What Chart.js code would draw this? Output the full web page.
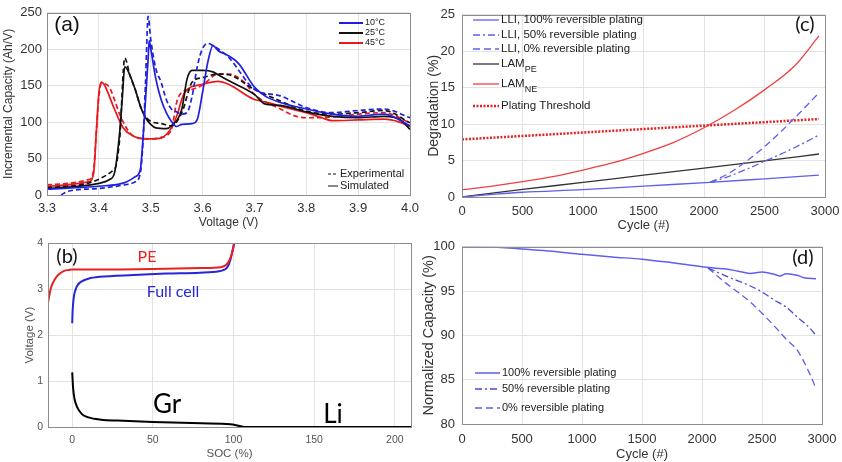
<!DOCTYPE html>
<html>
<head>
<meta charset="utf-8">
<script src="https://cdn.jsdelivr.net/npm/chart.js@4.4.1/dist/chart.umd.min.js"></script>
<style>
  html, body { margin: 0; padding: 0; background: #fff; }
  #wrap { position: relative; width: 842px; height: 462px; overflow: hidden; }
  canvas { position: absolute; }
</style>
</head>
<body>
<div id="wrap">
  <canvas id="ca" width="440" height="232" style="left:0;top:0"></canvas>
  <canvas id="cb" width="440" height="230" style="left:0;top:232px"></canvas>
  <canvas id="cc" width="440" height="232" style="left:420px;top:0"></canvas>
  <canvas id="cd" width="440" height="230" style="left:420px;top:232px"></canvas>
</div>
<script>
// ---- (a) incremental capacity vs voltage ----
var v10Sim = [3.30,3.40,3.45,3.47,3.48,3.485,3.49,3.495,3.497,3.50,3.51,3.52,3.53,3.54,3.55,3.56,3.58,3.59,3.60,3.61,3.62,3.63,3.65,3.67,3.70,3.72,3.75,3.80,3.85,3.90,3.95,4.00];
var ic10Sim = [8,12,17,25,35,76,131,187,212,201,159,131,113,101,94,97,98,104,141,182,205,198,191,180,148,136,127,118,111,108,111,95];
var v10Exp = [3.327,3.34,3.40,3.45,3.47,3.48,3.485,3.49,3.495,3.50,3.51,3.52,3.53,3.54,3.55,3.56,3.57,3.58,3.59,3.60,3.61,3.62,3.65,3.70,3.75,3.80,3.85,3.90,3.95,4.00];
var ic10Exp = [0,5,9,14,18,30,72,155,245,214,173,155,131,118,114,111,113,136,177,201,208,205,189,145,136,120,113,116,118,106];
var v25Sim = [3.30,3.40,3.42,3.43,3.44,3.445,3.45,3.455,3.47,3.48,3.49,3.50,3.51,3.53,3.54,3.56,3.57,3.58,3.60,3.62,3.63,3.65,3.70,3.72,3.75,3.80,3.85,3.90,3.95,3.98,4.00];
var ic25Sim = [9,16,21,30,85,131,176,172,145,122,106,97,92,91,95,118,159,171,171,169,165,157,138,125,123,114,108,106,108,104,90];
var v25Exp = [3.30,3.43,3.44,3.45,3.46,3.47,3.48,3.49,3.50,3.52,3.54,3.56,3.58,3.60,3.63,3.65,3.70,3.75,3.80,3.85,3.90,3.95,4.00];
var ic25Exp = [10,35,76,188,164,145,122,108,101,98,95,113,155,161,166,165,145,129,115,111,113,116,99];
var v45Sim = [3.30,3.38,3.39,3.395,3.40,3.405,3.41,3.43,3.447,3.466,3.485,3.50,3.52,3.53,3.54,3.55,3.565,3.60,3.63,3.65,3.70,3.72,3.75,3.80,3.83,3.85,3.90,3.95,3.98,4.00];
var ic45Sim = [12,18,30,85,140,155,152,118,92,81,77,77,78,83,92,108,140,152,156,152,131,128,122,113,106,102,103,104,100,94];
var v45Exp = [3.30,3.38,3.39,3.395,3.40,3.405,3.42,3.43,3.44,3.46,3.48,3.50,3.52,3.54,3.55,3.56,3.58,3.60,3.63,3.65,3.68,3.70,3.75,3.78,3.80,3.85,3.90,3.95,4.00];
var ic45Exp = [14,21,35,85,135,153,148,131,111,85,78,77,79,90,127,141,145,151,166,166,155,138,118,108,106,107,111,113,99];
var aVoltTicks = [3.3,3.4,3.5,3.6,3.7,3.8,3.9,4.0];
var aIcTicks = [0,50,100,150,200,250];

// ---- (b) electrode / full cell voltage vs SOC ----
var socPE = [-15,-14,-13,-11,-9,-7,-5,-2,0,20,50,80,92,95,97,98.5,100,100.5];
var voltPE = [2.7,2.9,3.05,3.2,3.3,3.36,3.4,3.42,3.43,3.43,3.44,3.46,3.48,3.52,3.6,3.72,3.92,4.0];
var socFull = [0,0.3,1,2,3,5,7,10,17,38,58,79,91,94,96,97.7,99,100.3];
var voltFull = [2.26,2.55,2.83,2.98,3.07,3.15,3.19,3.23,3.27,3.31,3.34,3.36,3.39,3.42,3.47,3.6,3.78,4.0];
var socGr = [0,0.6,1.4,3,6,10,18,28,50,80,98,104,108,210];
var voltGr = [1.19,0.83,0.62,0.44,0.28,0.21,0.16,0.14,0.11,0.08,0.06,0.02,0,0];
var bSocTicks = [0,50,100,150,200];
var bVoltTicks = [0,1,2,3,4];

// ---- (c) degradation modes vs cycle ----
var cycLLI = [0,250,500,1000,1500,2050,2500,2950];
var lli100 = [0,0.35,0.65,1.0,1.5,2.0,2.5,3.0];
var cycPlating = [2050,2200,2350,2500,2650,2800,2950];
var lli50 = [2.0,2.8,3.8,4.9,6.0,7.2,8.5];
var lli0 = [2.0,3.2,4.9,6.9,9.2,11.7,14.3];
var cycLAM = [0,500,1000,1500,2000,2500,2950];
var lamPE = [0,1.05,2.0,3.0,3.95,4.95,5.9];
var cycNE = [0,250,500,750,1000,1250,1500,1750,2000,2250,2500,2750,2950];
var lamNE = [1.0,1.5,2.1,2.8,3.7,4.7,6.0,7.5,9.5,11.9,14.7,18.0,22.1];
var cycThr = [0,2950];
var platingThr = [7.9,10.7];
var cycleTicks = [0,500,1000,1500,2000,2500,3000];
var cDegTicks = [0,5,10,15,20,25];

// ---- (d) normalized capacity vs cycle ----
var cycCap = [0,300,500,750,1000,1250,1500,1750,2000,2100,2200,2300,2400,2500,2600,2650,2700,2800,2850,2950];
var cap100 = [100,99.95,99.75,99.5,99.15,98.85,98.6,98.2,97.75,97.6,97.5,97.25,97.0,97.15,96.9,96.7,96.95,96.75,96.5,96.4];
var cycCapPl = [2050,2200,2400,2500,2600,2700,2800,2900,2950];
var cap50 = [97.6,96.7,95.6,94.9,94.0,93.2,92.0,90.8,90.0];
var cap0 = [97.6,95.9,93.8,92.5,91.1,89.6,88.2,85.6,84.0];
var dCapTicks = [80,85,90,95,100];

Chart.defaults.font.family = "'Liberation Sans', Arial, sans-serif";
Chart.defaults.color = '#333';

var BLUE_A = '#1f1fe0', RED_A = '#e8191e', BLACK = '#111';
var BLUE_C = '#5f5fee', BLUE_D = '#4a4ad8', RED_C = '#ee4040', BLACK_C = '#333';
var DASH = [5, 3], DASHDOT = [7, 3, 2, 3], DOT = [2, 1.5];

function pts(xs, ys) {
  return xs.map(function (x, i) { return { x: x, y: ys[i] }; });
}

function line(label, xs, ys, color, width, dash) {
  return {
    label: label, data: pts(xs, ys),
    borderColor: color, backgroundColor: color,
    borderWidth: width, borderDash: dash || [],
    pointRadius: 0, fill: false, cubicInterpolationMode: 'monotone'
  };
}

// axis helper: fixed size so the plot boxes land where the figure has them
function axis(o) {
  return {
    type: 'linear', min: o.min, max: o.max,
    afterBuildTicks: function (s) { s.ticks = o.ticks.map(function (v) { return { value: v }; }); },
    afterFit: function (s) { if (o.width) s.width = o.width; if (o.height) s.height = o.height; },
    grid: { color: '#e3e3e3', drawTicks: false },
    border: { display: false },
    ticks: {
      padding: o.pad, color: o.color || '#333', font: { size: o.size },
      callback: o.fmt || function (v) { return v; }
    },
    title: { display: true, text: o.title, color: o.color || '#333', font: { size: o.tsize }, padding: o.tpad }
  };
}

var decor = {
  id: 'decor',
  afterDraw: function (chart, args, o) {
    var ctx = chart.ctx, a = chart.chartArea;
    ctx.save();
    ctx.strokeStyle = '#8c8c8c';
    ctx.lineWidth = 1;
    ctx.strokeRect(Math.round(a.left) + 0.5, Math.round(a.top) + 0.5, Math.round(a.right - a.left), Math.round(a.bottom - a.top));
    (o.legends || []).forEach(function (g) {
      g.items.forEach(function (it) {
        ctx.strokeStyle = it.color;
        ctx.lineWidth = it.width;
        ctx.setLineDash(it.dash || []);
        ctx.beginPath();
        ctx.moveTo(g.x0, it.y);
        ctx.lineTo(g.x1, it.y);
        ctx.stroke();
        ctx.setLineDash([]);
        ctx.fillStyle = '#222';
        ctx.font = g.font;
        ctx.textAlign = 'left';
        ctx.textBaseline = 'middle';
        ctx.fillText(it.text, g.x1 + 2, it.y);
        if (it.sub) {
          var w = ctx.measureText(it.text).width;
          ctx.font = g.subFont;
          ctx.fillText(it.sub, g.x1 + 2 + w, it.y + 6);
        }
      });
    });
    (o.texts || []).forEach(function (t) {
      ctx.font = t.font;
      ctx.fillStyle = t.color || '#111';
      ctx.textAlign = 'center';
      ctx.textBaseline = 'middle';
      ctx.fillText(t.text, t.x, t.y);
    });
    ctx.restore();
  }
};

function base(pad, scales, decorOpts) {
  return {
    responsive: false, animation: false, devicePixelRatio: 1,
    layout: { padding: pad },
    plugins: { legend: { display: false }, tooltip: { enabled: false }, decor: decorOpts },
    scales: scales
  };
}

// (a)
new Chart(document.getElementById('ca'), {
  type: 'line',
  data: { datasets: [
    line('10°C simulated', v10Sim, ic10Sim, BLUE_A, 1.7),
    line('10°C experimental', v10Exp, ic10Exp, BLUE_A, 1.7, DASH),
    line('25°C simulated', v25Sim, ic25Sim, BLACK, 1.7),
    line('25°C experimental', v25Exp, ic25Exp, BLACK, 1.7, DASH),
    line('45°C simulated', v45Sim, ic45Sim, RED_A, 1.7),
    line('45°C experimental', v45Exp, ic45Exp, RED_A, 1.7, DASH)
  ] },
  options: base({ left: 0, top: 10, right: 30, bottom: 0 }, {
    x: axis({ min: 3.3, max: 4.0, ticks: aVoltTicks, height: 37, pad: 6, size: 13,
      fmt: function (v) { return v.toFixed(1); }, title: 'Voltage (V)', tsize: 12, tpad: { top: 0, bottom: 2 } }),
    y: axis({ min: 0, max: 250, ticks: aIcTicks, width: 47, pad: 5, size: 13,
      title: 'Incremental Capacity (Ah/V)', tsize: 12, tpad: { top: 1, bottom: 0 } })
  }, {
    legends: [
      { x0: 339, x1: 363, font: "9px 'Liberation Sans'", items: [
        { text: '10°C', y: 23, color: BLUE_A, width: 2 },
        { text: '25°C', y: 33, color: BLACK, width: 2 },
        { text: '45°C', y: 43, color: RED_A, width: 2 }
      ] },
      { x0: 328, x1: 338, font: "11px 'Liberation Sans'", items: [
        { text: 'Experimental', y: 174, color: BLACK, width: 1.2, dash: [3, 2] },
        { text: 'Simulated', y: 186, color: BLACK, width: 1 }
      ] }
    ],
    texts: [ { text: '(a)', x: 67, y: 25, font: "21px 'Liberation Sans'" } ]
  }),
  plugins: [decor]
});

// (b)
new Chart(document.getElementById('cb'), {
  type: 'line',
  data: { datasets: [
    line('PE', socPE, voltPE, '#e82020', 2),
    line('Full cell', socFull, voltFull, '#2626d6', 2),
    line('Gr', socGr, voltGr, '#000', 2)
  ] },
  options: base({ left: 0, top: 9, right: 29, bottom: 0 }, {
    x: axis({ min: -15, max: 210, ticks: bSocTicks, height: 35, pad: 7, size: 10.5, color: '#555',
      title: 'SOC (%)', tsize: 11.5, tpad: { top: 0, bottom: 1 } }),
    y: axis({ min: 0, max: 4, ticks: bVoltTicks, width: 48, pad: 5, size: 10.5, color: '#555',
      title: 'Voltage (V)', tsize: 11.5, tpad: { top: 23, bottom: 0 } })
  }, {
    texts: [
      { text: '(b)', x: 67, y: 25, font: "20px Lato" },
      { text: 'PE', x: 147, y: 25, font: "16px Lato", color: '#e82020' },
      { text: 'Full cell', x: 173, y: 60, font: "16px Lato", color: '#2626d6' },
      { text: 'Gr', x: 167, y: 173, font: "26px Lato", color: '#000' },
      { text: 'Li', x: 333, y: 183, font: "26px Lato", color: '#000' }
    ]
  }),
  plugins: [decor]
});

// (c)
new Chart(document.getElementById('cc'), {
  type: 'line',
  data: { datasets: [
    line('LLI, 100% reversible plating', cycLLI, lli100, BLUE_C, 1.3),
    line('LLI, 50% reversible plating', cycPlating, lli50, BLUE_C, 1.3, DASHDOT),
    line('LLI, 0% reversible plating', cycPlating, lli0, BLUE_C, 1.3, [7, 4]),
    line('LAM PE', cycLAM, lamPE, BLACK_C, 1.3),
    line('LAM NE', cycNE, lamNE, RED_C, 1.3),
    line('Plating Threshold', cycThr, platingThr, '#e82020', 2.5, DOT)
  ] },
  options: base({ left: 0, top: 10, right: 35, bottom: 0 }, {
    x: axis({ min: 0, max: 3000, ticks: cycleTicks, height: 35, pad: 7, size: 13,
      title: 'Cycle (#)', tsize: 13, tpad: { top: 0, bottom: -1 } }),
    y: axis({ min: 0, max: 25, ticks: cDegTicks, width: 42, pad: 7, size: 13,
      title: 'Degradation (%)', tsize: 14, tpad: { top: 6, bottom: 0 } })
  }, {
    legends: [
      { x0: 53, x1: 79, font: "11.5px 'Liberation Sans'", subFont: "9px 'Liberation Sans'", items: [
        { text: 'LLI, 100% reversible plating', y: 20, color: BLUE_C, width: 1.3 },
        { text: 'LLI, 50% reversible plating', y: 35, color: BLUE_C, width: 1.3, dash: DASHDOT },
        { text: 'LLI, 0% reversible plating', y: 49, color: BLUE_C, width: 1.3, dash: [7, 4] },
        { text: 'LAM', sub: 'PE', y: 64, color: BLACK_C, width: 1.3 },
        { text: 'LAM', sub: 'NE', y: 84, color: RED_C, width: 1.3 },
        { text: 'Plating Threshold', y: 106, color: '#e82020', width: 2.5, dash: DOT }
      ] }
    ],
    texts: [ { text: '(c)', x: 385, y: 25, font: "20px Lato" } ]
  }),
  plugins: [decor]
});

// (d)
new Chart(document.getElementById('cd'), {
  type: 'line',
  data: { datasets: [
    line('100% reversible plating', cycCap, cap100, BLUE_C, 1.5),
    line('50% reversible plating', cycCapPl, cap50, BLUE_D, 1.3, DASHDOT),
    line('0% reversible plating', cycCapPl, cap0, BLUE_C, 1.3, [7, 4])
  ] },
  options: base({ left: 0, top: 5, right: 38, bottom: 0 }, {
    x: axis({ min: 0, max: 3000, ticks: cycleTicks, height: 38, pad: 8, size: 13,
      title: 'Cycle (#)', tsize: 13, tpad: { top: 0, bottom: 0 } }),
    y: axis({ min: 80, max: 100, ticks: dCapTicks, width: 42, pad: 7, size: 13,
      title: 'Normalized Capacity (%)', tsize: 14.5, tpad: { top: 0, bottom: 0 } })
  }, {
    legends: [
      { x0: 55, x1: 80, font: "11px 'Liberation Sans'", items: [
        { text: '100% reversible plating', y: 141, color: BLUE_C, width: 1.5 },
        { text: '50% reversible plating', y: 157, color: BLUE_D, width: 1.3, dash: DASHDOT },
        { text: '0% reversible plating', y: 176, color: BLUE_C, width: 1.3, dash: [7, 4] }
      ] }
    ],
    texts: [ { text: '(d)', x: 383, y: 26, font: "20px Lato" } ]
  }),
  plugins: [decor]
});
</script>
</body>
</html>
